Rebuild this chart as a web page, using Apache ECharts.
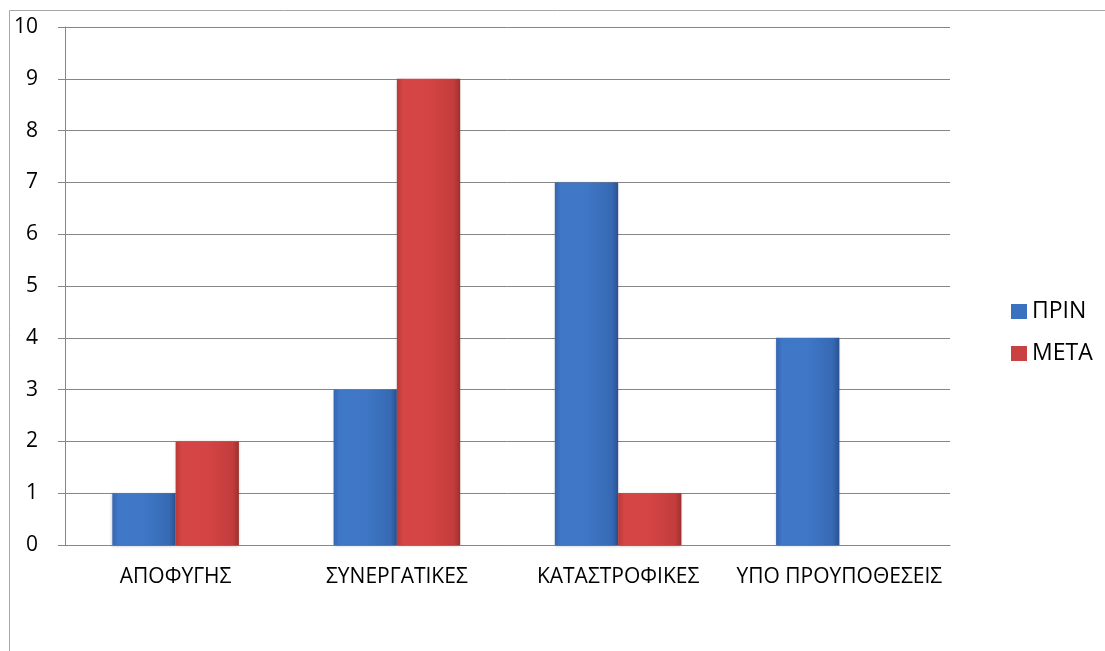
<!DOCTYPE html>
<html><head><meta charset="utf-8">
<script src="https://cdn.jsdelivr.net/npm/echarts@6/dist/echarts.min.js"></script>
<style>html,body{margin:0;padding:0;background:#fff}#c{width:1105px;height:651px}</style>
</head><body><div id="c"></div>
<script>
const categories = ['ΑΠΟΦΥΓΗΣ', 'ΣΥΝΕΡΓΑΤΙΚΕΣ', 'ΚΑΤΑΣΤΡΟΦΙΚΕΣ', 'ΥΠΟ ΠΡΟΥΠΟΘΕΣΕΙΣ'];
const seriesNames = ['ΠΡΙΝ', 'ΜΕΤΑ'];
const priv = [1, 3, 7, 4];
const meta = [2, 9, 1, null];
const yTicks = [0, 10, 1];

const blueGrad = new echarts.graphic.LinearGradient(0, 0, 1, 0, [
  {offset: 0, color: '#3565b0'}, {offset: 0.1, color: '#4078c8'},
  {offset: 0.5, color: '#3f77c6'}, {offset: 0.9, color: '#3669b3'}, {offset: 1, color: '#2a5190'}]);
const redGrad = new echarts.graphic.LinearGradient(0, 0, 1, 0, [
  {offset: 0, color: '#b83a38'}, {offset: 0.1, color: '#d64545'},
  {offset: 0.5, color: '#d44444'}, {offset: 0.9, color: '#c23d3c'}, {offset: 1, color: '#9e302e'}]);

const font = 'Open Sans';
const chart = echarts.init(document.getElementById('c'));
chart.setOption({
  animation: false,
  textStyle: {fontFamily: font},
  graphic: [{type: 'rect', shape: {x: 9.5, y: 10.5, width: 1200, height: 800},
    style: {fill: 'none', stroke: '#a6a6a6', lineWidth: 1}, silent: true}],
  grid: {left: 65, right: 155, top: 27, bottom: 106, containLabel: false},
  legend: {
    orient: 'vertical', left: 1006, top: 295, itemWidth: 16, itemHeight: 15, itemGap: 19,
    icon: 'rect', textStyle: {fontSize: 23, color: '#000', fontFamily: font},
    data: [
      {name: seriesNames[0], itemStyle: {color: '#3b72c0'}},
      {name: seriesNames[1], itemStyle: {color: '#c94140'}}
    ]
  },
  xAxis: {
    type: 'category', data: categories,
    axisLine: {lineStyle: {color: '#868686'}},
    axisTick: {length: 7, lineStyle: {color: '#868686'}},
    axisLabel: {fontSize: 21, color: '#000', margin: 22, interval: 0}
  },
  yAxis: {
    type: 'value', min: yTicks[0], max: yTicks[1], interval: yTicks[2],
    axisLine: {show: true, lineStyle: {color: '#868686'}},
    axisTick: {show: true, length: 7, lineStyle: {color: '#868686'}},
    splitLine: {lineStyle: {color: '#868686'}},
    axisLabel: {fontSize: 21, color: '#000', margin: 27}
  },
  series: [
    {name: seriesNames[0], type: 'bar', data: priv, barGap: '0%', barCategoryGap: '42.8%',
     itemStyle: {color: blueGrad, shadowColor: 'rgba(0,0,0,0.25)', shadowBlur: 3, shadowOffsetY: 1}},
    {name: seriesNames[1], type: 'bar', data: meta, barGap: '0%', barCategoryGap: '42.8%',
     itemStyle: {color: redGrad, shadowColor: 'rgba(0,0,0,0.25)', shadowBlur: 3, shadowOffsetY: 1}}
  ]
});
</script></body></html>
